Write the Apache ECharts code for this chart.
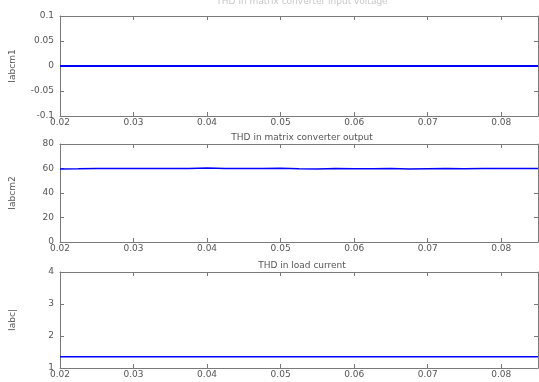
<!DOCTYPE html>
<html><head><meta charset="utf-8">
<script src="https://cdn.jsdelivr.net/npm/echarts@6/dist/echarts.min.js"></script>
<style>html,body{margin:0;padding:0;background:#fff}#c{width:539px;height:382px}</style>
</head><body><div id="c"></div>
<script>
const time = [0.02,0.0225,0.025,0.0275,0.03,0.0325,0.035,0.0375,0.04,0.0425,0.045,0.0475,0.05,0.0525,0.055,0.0575,0.06,0.0625,0.065,0.0675,0.07,0.0725,0.075,0.0775,0.08,0.0825,0.085];
const iabcm1 = [0,0,0,0,0,0,0,0,0,0,0,0,0,0,0,0,0,0,0,0,0,0,0,0,0,0,0];
const iabcm2 = [59.6,59.8,60.1,60.0,59.9,60.0,60.1,60.0,60.5,60.1,59.9,60.0,60.2,59.8,59.6,59.9,59.7,59.8,59.9,59.6,59.8,60.0,59.8,59.9,59.9,60.0,60.0];
const iabc = [1.35,1.35,1.35,1.35,1.35,1.35,1.35,1.35,1.35,1.35,1.35,1.35,1.35,1.35,1.35,1.35,1.35,1.35,1.35,1.35,1.35,1.35,1.35,1.35,1.35,1.35,1.35];
const titles = ['THD in matrix converter input voltage','THD in matrix converter output','THD in load current'];
const yNames = ['Iabcm1','Iabcm2','Iabc|'];
const yRanges = [[-0.1,0.1,0.05],[0,80,20],[1,4,1]];
const seriesData = [iabcm1, iabcm2, iabc];

const grids = [{top:16,height:100},{top:144,height:98},{top:272,height:96}];
const axCol = '#7a7a7a', txtCol = '#555';
const font = 'DejaVu Sans, Verdana, sans-serif';
const option = {animation:false, grid:[], xAxis:[], yAxis:[], series:[], title:[]};
grids.forEach((g,i)=>{
  option.grid.push({left:59,right:1,top:g.top,height:g.height,show:false});
  const xBase = {type:'value',gridIndex:i,min:0.02,max:0.085,interval:0.01,
    axisLine:{onZero:false,lineStyle:{color:axCol,width:1}},
    axisTick:{inside:true,length:4,lineStyle:{color:axCol}},
    splitLine:{show:false}};
  option.xAxis.push(Object.assign({},xBase,{position:'bottom',
    axisLabel:{color:txtCol,fontSize:9,fontFamily:font,margin:2,showMaxLabel:false,formatter:v=>v.toFixed(2)}}));
  option.xAxis.push(Object.assign({},xBase,{position:'top',axisLabel:{show:false}}));
  const r = yRanges[i];
  const yBase = {type:'value',gridIndex:i,min:r[0],max:r[1],interval:r[2],
    axisLine:{show:true,onZero:false,lineStyle:{color:axCol,width:1}},
    axisTick:{show:true,inside:true,length:4,lineStyle:{color:axCol}},
    splitLine:{show:false}};
  option.yAxis.push(Object.assign({},yBase,{position:'left',name:yNames[i],nameLocation:'middle',nameGap:43,
    nameTextStyle:{color:txtCol,fontSize:9,fontFamily:font},
    axisLabel:{color:txtCol,fontSize:9,fontFamily:font,margin:6}}));
  option.yAxis.push(Object.assign({},yBase,{position:'right',axisLabel:{show:false}}));
  option.series.push({type:'line',xAxisIndex:i*2,yAxisIndex:i*2,showSymbol:false,
    lineStyle:{color:'#0000ff',width:i===0?2:1.5},
    data:time.map((t,k)=>[t,seriesData[i][k]])});
  option.title.push({text:titles[i],left:297,textAlign:'center',top:g.top-16,
    textStyle:{color:i===0?'#c8c8c8':txtCol,fontSize:9,fontWeight:'normal',fontFamily:font}});
});
option.title[0].top = -8;
const chart = echarts.init(document.getElementById('c'),null,{renderer:'canvas'});
chart.setOption(option);
</script></body></html>
